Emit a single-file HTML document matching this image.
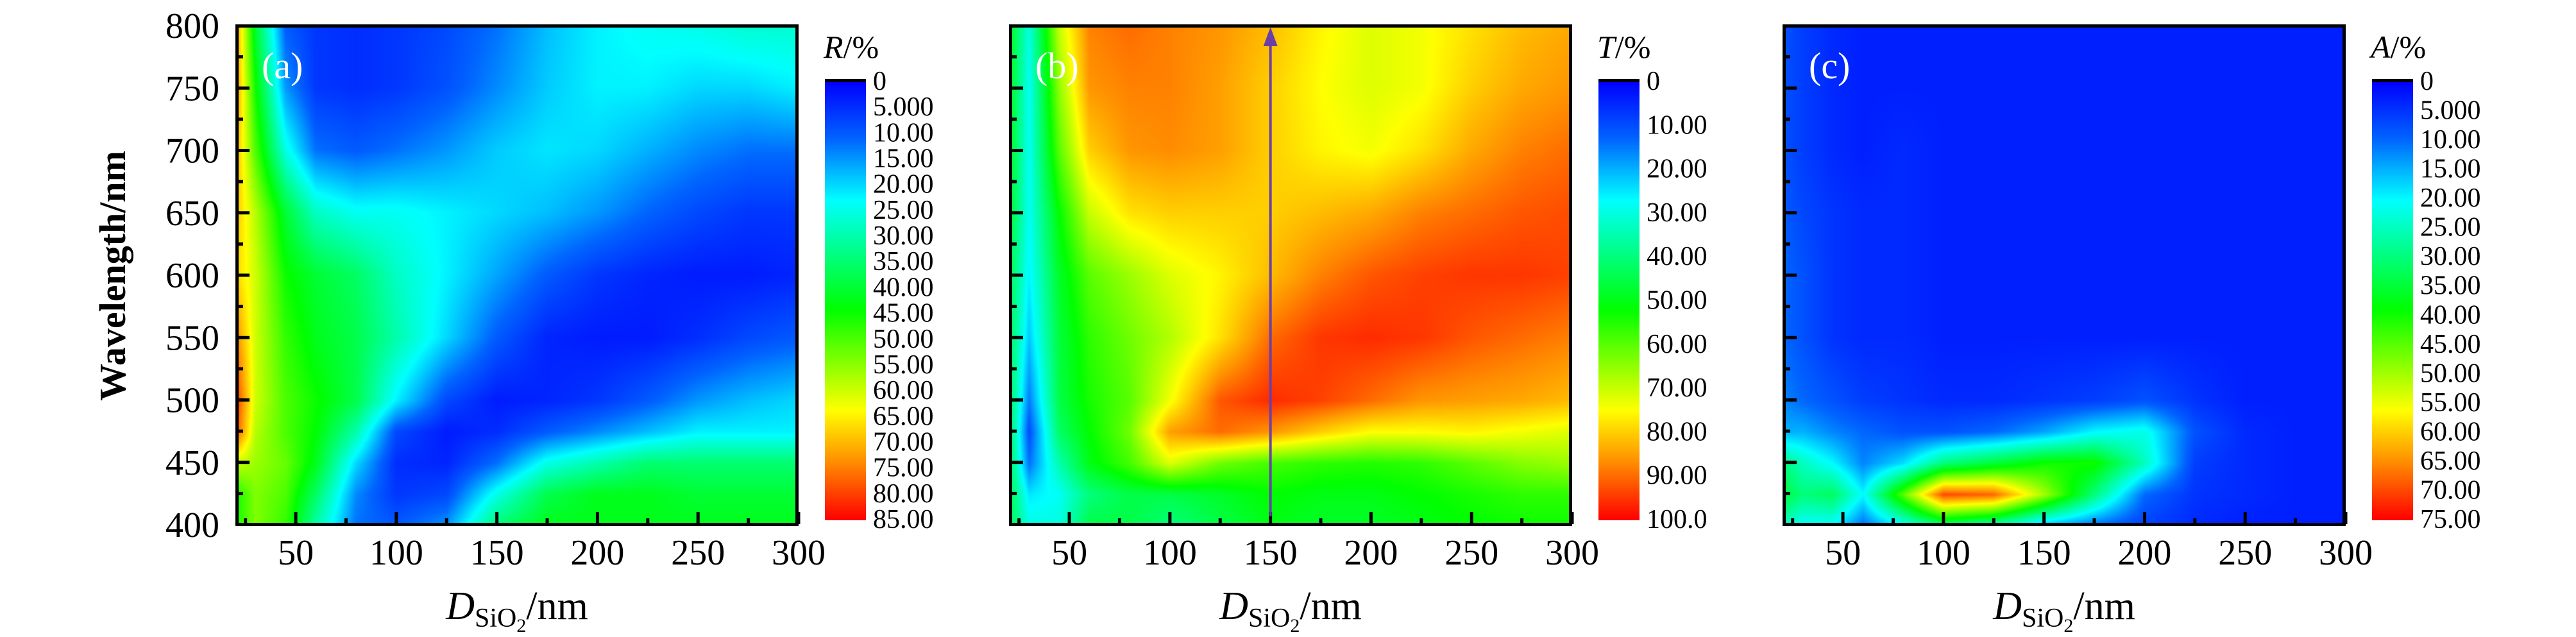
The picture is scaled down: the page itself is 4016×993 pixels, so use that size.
<!DOCTYPE html>
<html><head><meta charset="utf-8">
<style>
html,body{margin:0;padding:0;background:#fff;}
#wrap{position:relative;width:4016px;height:993px;overflow:hidden;}
canvas{position:absolute;}
svg{position:absolute;left:0;top:0;}
</style></head>
<body>
<div id="wrap">
<canvas id="ca"></canvas>
<canvas id="cb"></canvas>
<canvas id="cc"></canvas>
<canvas id="ka"></canvas>
<canvas id="kb"></canvas>
<canvas id="kc"></canvas>
<svg id="ov" width="4016" height="993"></svg>
</div>
<script>
// ---- data ----
const thickness = [20,30,45,60,80,100,125,150,175,200,225,250,275,300];
const wavelengths = [800,750,700,650,600,550,500,475,450,425,400];
const reflectance = [
[75,40,10,6,5,6,8,12,18,22,24,25,27,27],
[75,45,15,6,5,6,9,14,19,22,22,20,20,22],
[72,50,25,12,10,12,15,19,21,20,17,14,12,12],
[70,58,40,28,24,24,22,20,18,15,11,8,6,6],
[68,60,45,40,36,28,22,16,10,6,4,3,3,4],
[75,60,48,42,38,30,20,10,4,3,3,5,8,10],
[82,60,50,45,38,22,8,3,4,6,10,15,18,20],
[80,58,50,44,30,8,3,5,10,14,18,22,22,22],
[60,56,52,42,20,5,4,12,25,30,35,35,35,35],
[45,54,50,36,14,6,8,25,38,42,42,40,40,40],
[45,54,48,30,12,10,15,35,42,42,42,42,42,42]];
const transmittance = [
[50,30,70,88,90,88,86,82,76,72,74,78,82,84],
[50,28,65,86,88,88,85,80,75,72,74,80,84,86],
[50,28,60,80,86,87,85,80,76,74,78,84,88,90],
[48,28,52,70,78,80,80,80,82,84,88,90,92,93],
[45,26,48,60,66,72,76,82,88,92,94,95,95,94],
[45,22,46,56,62,68,78,90,95,96,95,92,90,88],
[45,15,45,54,60,74,92,96,94,90,86,85,84,82],
[45,10,42,52,62,85,90,86,80,75,75,76,74,72],
[45,14,35,50,58,72,62,58,56,55,56,60,64,66],
[45,25,28,40,45,45,48,52,50,50,52,54,56,56],
[45,30,30,45,45,40,45,50,48,48,50,52,53,53]];
const absorptance = [
[8,6,4,3,3,3,3,3,3,3,3,3,3,3],
[8,6,4,3,3,3,3,3,3,3,3,3,3,3],
[8,6,4,3,4,3,3,3,3,3,3,3,3,3],
[9,7,5,4,4,3,3,3,3,3,3,3,3,3],
[10,8,5,4,4,3,3,3,3,3,3,3,3,3],
[10,8,5,4,4,3,3,3,3,3,3,3,3,3],
[12,10,8,6,5,4,4,5,6,8,5,3,3,3],
[15,15,12,10,8,8,10,14,20,22,8,4,3,3],
[30,25,20,12,18,30,35,40,40,25,6,4,3,3],
[35,30,32,20,45,70,68,50,30,10,5,4,3,3],
[25,20,20,10,20,30,25,15,10,6,4,3,3,3]];
const rTicks = ["0","5.000","10.00","15.00","20.00","25.00","30.00","35.00","40.00","45.00","50.00","55.00","60.00","65.00","70.00","75.00","80.00","85.00"];
const tTicks = ["0","10.00","20.00","30.00","40.00","50.00","60.00","70.00","80.00","90.00","100.0"];
const aTicks = ["0","5.000","10.00","15.00","20.00","25.00","30.00","35.00","40.00","45.00","50.00","55.00","60.00","65.00","70.00","75.00"];
const xTickVals = [50,100,150,200,250,300];
const yTickVals = [400,450,500,550,600,650,700,750,800];

// ---- layout ----
const TOP=38, BOT=820, PW=878, CBOFF=41;
const panels=[
 {left:367, cv:'ca', kb:'ka', data:reflectance, max:85, ticks:rTicks, title:'R', tag:'(a)', name:'reflectance'},
 {left:1573, cv:'cb', kb:'kb', data:transmittance, max:100, ticks:tTicks, title:'T', tag:'(b)', name:'transmittance'},
 {left:2779, cv:'cc', kb:'kc', data:absorptance, max:75, ticks:aTicks, title:'A', tag:'(c)', name:'absorptance'}];
const xScale=(p,d)=>p.left+(d-20)/280*PW;
const yScale=l=>TOP+2+(800-l)/400*(BOT-TOP-4);

const stops=[[0,[0,0,255]],[0.13,[0,100,255]],[0.27,[0,255,255]],[0.52,[0,255,0]],[0.75,[255,255,0]],[0.87,[255,140,0]],[1,[255,0,0]]];
function cmap(t){t=Math.max(0,Math.min(1,t));for(let i=1;i<stops.length;i++){if(t<=stops[i][0]){const a=stops[i-1],b=stops[i];const f=(t-a[0])/(b[0]-a[0]);return [0,1,2].map(k=>Math.round(a[1][k]+(b[1][k]-a[1][k])*f));}}return stops[stops.length-1][1];}
function seg(arr,v){for(let i=0;i<arr.length-1;i++){const a=arr[i],b=arr[i+1];if((v-a)*(v-b)<=0){return [i,(v-a)/(b-a)];}}return [arr.length-2,1];}

panels.forEach(p=>{
 const c=document.getElementById(p.cv);const w=PW,h=BOT-TOP;
 c.width=w;c.height=h;c.style.left=p.left+'px';c.style.top=TOP+'px';
 const ctx=c.getContext('2d');const img=ctx.createImageData(w,h);
 const xs=[];for(let x=0;x<w;x++){xs.push(seg(thickness,20+(x+0.5)/w*280));}
 for(let y=0;y<h;y++){const [j,fy]=seg(wavelengths,800-(y+0.5)/h*400);
  for(let x=0;x<w;x++){const [i,fx]=xs[x];const d=p.data;
   const v=(d[j][i]*(1-fx)+d[j][i+1]*fx)*(1-fy)+(d[j+1][i]*(1-fx)+d[j+1][i+1]*fx)*fy;
   const col=cmap(v/p.max);const o=(y*w+x)*4;img.data[o]=col[0];img.data[o+1]=col[1];img.data[o+2]=col[2];img.data[o+3]=255;}}
 ctx.putImageData(img,0,0);
 const k=document.getElementById(p.kb);const kx=p.left+PW+CBOFF;k.width=64;k.height=684;
 k.style.left=kx+'px';k.style.top='127px';const kc=k.getContext('2d');
 for(let y=0;y<684;y++){const col=cmap(y/683);kc.fillStyle=`rgb(${col[0]},${col[1]},${col[2]})`;kc.fillRect(0,y,64,1);}
});

// ---- overlay ----
const NS='http://www.w3.org/2000/svg';const ov=document.getElementById('ov');
function el(tag,attrs,txt){const e=document.createElementNS(NS,tag);for(const a in attrs)e.setAttribute(a,attrs[a]);if(txt!==undefined)e.textContent=txt;ov.appendChild(e);return e;}
const FONT='"Liberation Serif", serif';
panels.forEach((p,pi)=>{
 const fr=el('rect',{x:p.left+2.5,y:TOP+2.5,width:PW-5,height:BOT-TOP-5,fill:'none',stroke:'#000','stroke-width':5});
 
 
 for(let d=25;d<=300;d+=25){const x=xScale(p,d);const major=d%50===0;
  const t=el('line',{x1:x,x2:x,y1:BOT-3,y2:BOT-(major?22:12),stroke:'#000','stroke-width':5});
  
  }
 for(let l=425;l<800;l+=25){const y=yScale(l);const major=l%50===0;
  const t=el('line',{x1:p.left+3,x2:p.left+(major?22:12),y1:y,y2:y,stroke:'#000','stroke-width':5});
  
  }
 xTickVals.forEach(v=>{const t=el('text',{x:xScale(p,v),y:880,'font-family':FONT,'font-size':56,'text-anchor':'middle'},String(v));
  
  });
 const xt=el('text',{x:p.left+PW/2,y:965,'font-family':FONT,'font-size':62,'text-anchor':'middle'});
 
 
 xt.innerHTML='<tspan font-style="italic">D</tspan><tspan font-size="42" dy="12">SiO</tspan><tspan font-size="30" dy="8">2</tspan><tspan dy="-20">/nm</tspan>';
 const tg=el('text',{x:p.left+41,y:122,'font-family':FONT,'font-size':58,fill:'#fff'},p.tag);
 
 
 const kx=p.left+PW+CBOFF;
 const bl=el('rect',{x:kx,y:123,width:64,height:5,fill:'#000'});
 
 
 const n=p.ticks.length;
 p.ticks.forEach((s,i)=>{const t=el('text',{x:kx+75,y:125+i*(808-125)/(n-1)+15,'font-family':FONT,'font-size':42},s);
  
  });
 const ct=el('text',{x:kx-2,y:90,'font-family':FONT,'font-size':50});
 
 
 ct.innerHTML='<tspan font-style="italic">'+p.title+'</tspan>/%';
});
yTickVals.forEach(v=>{const t=el('text',{x:342,y:yScale(v)+19,'font-family':FONT,'font-size':56,'text-anchor':'end'},String(v));
 
 });
const yt=el('text',{x:0,y:0,'font-family':FONT,'font-size':58,'font-weight':'bold','text-anchor':'middle',transform:'translate(195,430) rotate(-90)'},'Wavelength/nm');


const ax=xScale(panels[1],150);
const ar=el('line',{x1:ax,x2:ax,y1:805,y2:70,stroke:'#6a3fa8','stroke-width':4});


const ah=el('polygon',{points:`${ax-11},72 ${ax+11},72 ${ax},42`,fill:'#6a3fa8'});


</script>
</body></html>
